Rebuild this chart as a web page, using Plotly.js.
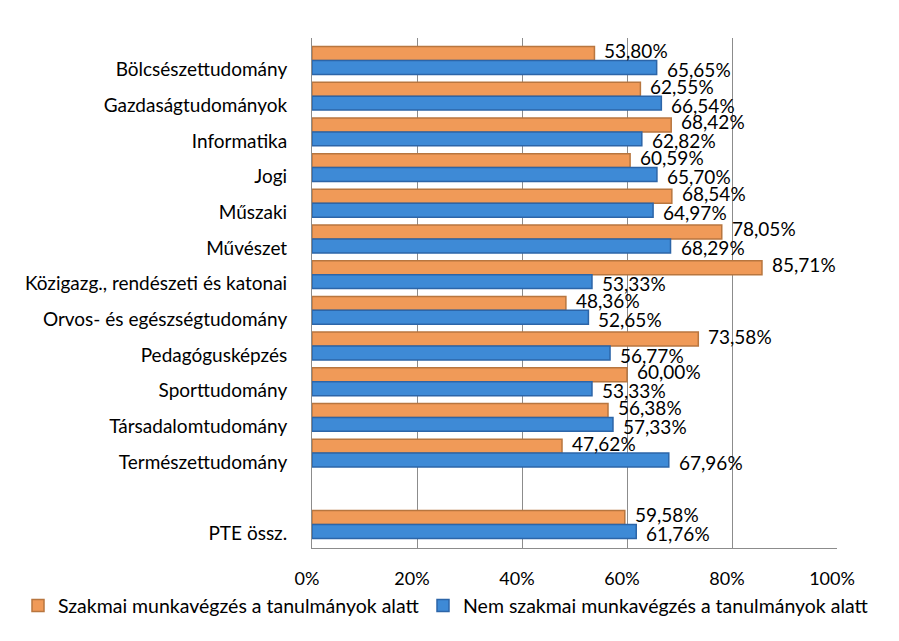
<!DOCTYPE html>
<html>
<head>
<meta charset="utf-8">
<script src="https://cdn.plot.ly/plotly-3.0.1.min.js"></script>
<style>html,body{margin:0;padding:0;background:#fff}#chart{width:899px;height:641px}</style>
</head>
<body>
<div id="chart"></div>
<script>
const categories = ["Bölcsészettudomány","Gazdaságtudományok","Informatika","Jogi","Műszaki","Művészet","Közigazg., rendészeti és katonai","Orvos- és egészségtudomány","Pedagógusképzés","Sporttudomány","Társadalomtudomány","Természettudomány"," ","PTE össz."];
const szakmai = [53.80,62.55,68.42,60.59,68.54,78.05,85.71,48.36,73.58,60.00,56.38,47.62,null,59.58];
const nemSzakmai = [65.65,66.54,62.82,65.70,64.97,68.29,53.33,52.65,56.77,53.33,57.33,67.96,null,61.76];
const seriesNames = ["Szakmai munkavégzés a tanulmányok alatt","Nem szakmai munkavégzés a tanulmányok alatt"];
const xTicks = [0,20,40,60,80,100];

const fmt = v => v.toFixed(2).replace(".", ",") + "%";
const font = "Lato, 'Open Sans', sans-serif";

const traces = [
  {type:"bar", orientation:"h", name:seriesNames[0], y:categories, x:szakmai, legend:"legend",
   marker:{color:"#F09A58", line:{color:"#B8763F", width:1.5}}, hoverinfo:"x+y"},
  {type:"bar", orientation:"h", name:seriesNames[1], y:categories, x:nemSzakmai, legend:"legend2",
   marker:{color:"#3E8AD6", line:{color:"#2C65A8", width:1.5}}, hoverinfo:"x+y"}
];

// data labels, placed at each bar's value through the axes
const annotations = [];
[[szakmai, 10], [nemSzakmai, -9]].forEach(([vals, dy]) => {
  vals.forEach((v, i) => {
    if (v == null) return;
    annotations.push({x:v, y:categories[i], xref:"x", yref:"y", text:fmt(v), showarrow:false,
      xanchor:"left", yanchor:"middle", xshift:8, yshift:dy,
      font:{size:19, color:"#000", family:font}});
  });
});

const legendBase = {orientation:"h", xref:"container", yref:"container", xanchor:"left",
  y:0.055, yanchor:"middle", font:{size:19.5}, itemwidth:30, bgcolor:"rgba(0,0,0,0)"};

const layout = {
  width:899, height:641,
  margin:{l:312, r:62, t:38, b:93},
  paper_bgcolor:"#fff", plot_bgcolor:"#fff",
  font:{family:font, color:"#000", size:16},
  barmode:"group", bargap:0.22, bargroupgap:0,
  xaxis:{range:[0,100], tickvals:xTicks, ticktext:xTicks.map(v=>v+"%"),
         showgrid:true, gridcolor:"#8c8c8c", gridwidth:1, zeroline:false,
         showline:true, linecolor:"#8c8c8c", ticks:"", ticklabelstandoff:14, ticklabelshift:-5,
         tickfont:{size:18}},
  yaxis:{type:"category", autorange:"reversed", showgrid:false, zeroline:false,
         showline:true, linecolor:"#8c8c8c", ticks:"", ticklabelstandoff:20, ticklabelshift:-9,
         tickfont:{size:19}},
  annotations:annotations,
  legend:Object.assign({}, legendBase, {x:18/899}),
  legend2:Object.assign({}, legendBase, {x:423/899}),
  showlegend:true
};

Plotly.newPlot("chart", traces, layout, {displayModeBar:false, staticPlot:true});
</script>
</body>
</html>
